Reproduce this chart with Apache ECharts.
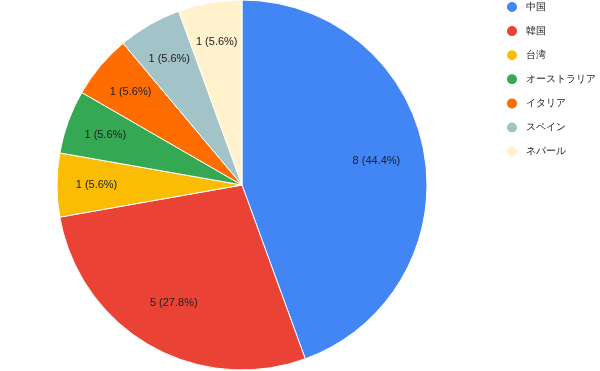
<!DOCTYPE html>
<html>
<head>
<meta charset="utf-8">
<script src="https://cdn.jsdelivr.net/npm/echarts@6/dist/echarts.min.js"></script>
<style>
html,body{margin:0;padding:0;background:#fff;}
#chart{width:600px;height:371px;}
</style>
</head>
<body>
<div id="chart"></div>
<script>
var categories = ['中国', '韓国', '台湾', 'オーストラリア', 'イタリア', 'スペイン', 'ネパール'];
var values = [8, 5, 1, 1, 1, 1, 1];
var colors = ['#4285f4', '#ea4335', '#fbbc04', '#34a853', '#ff6d01', '#a2c4c9', '#fff2cc'];

var total = values.reduce(function(a, b){ return a + b; }, 0);
var pieData = categories.map(function(c, i){ return { name: c, value: values[i], itemStyle: { color: colors[i] } }; });
function labelData(big) {
  return categories.map(function(c, i){
    var isBig = values[i] / total > 0.2;
    return { name: c, value: values[i], label: { show: isBig === big } };
  });
}
var labelStyle = {
  position: 'inside',
  fontFamily: 'Liberation Sans, Arial, sans-serif',
  fontSize: 11,
  color: '#222',
  formatter: function(p){ return p.value + ' (' + (p.value / total * 100).toFixed(1) + '%)'; }
};
function overlay(r0, big) {
  return {
    type: 'pie',
    center: [242, 185],
    radius: [r0, 185],
    startAngle: 90,
    clockwise: true,
    silent: true,
    avoidLabelOverlap: false,
    data: labelData(big),
    itemStyle: { color: 'rgba(0,0,0,0)', borderWidth: 0 },
    label: labelStyle,
    labelLine: { show: false },
    emphasis: { disabled: true }
  };
}

var chart = echarts.init(document.getElementById('chart'), null, { renderer: 'canvas' });
chart.setOption({
  animation: false,
  backgroundColor: '#fff',
  legend: {
    orient: 'vertical',
    left: 505,
    top: 0,
    padding: 0,
    icon: 'circle',
    itemWidth: 18,
    itemHeight: 12,
    itemGap: 10.1,
    data: categories,
    textStyle: { fontFamily: 'Liberation Sans, Arial, sans-serif', fontSize: 10, color: '#222', lineHeight: 12 }
  },
  series: [
    {
      type: 'pie',
      center: [242, 185],
      radius: [0, 185],
      startAngle: 90,
      clockwise: true,
      data: pieData,
      label: { show: false },
      labelLine: { show: false },
      itemStyle: { borderColor: '#fff', borderWidth: 1 },
      emphasis: { disabled: true }
    },
    overlay(82, true),
    overlay(100, false)
  ]
});
</script>
</body>
</html>
